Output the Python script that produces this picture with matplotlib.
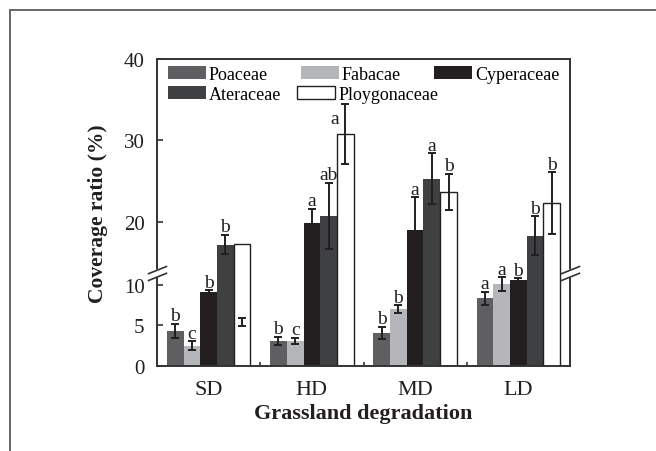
import matplotlib
matplotlib.use("Agg")
import matplotlib.pyplot as plt
from matplotlib.lines import Line2D
from matplotlib.path import Path
import numpy as np

plt.rcParams["font.family"] = ["Liberation Serif", "DejaVu Serif"]

groups = ["SD", "HD", "MD", "LD"]
families = ["Poaceae", "Fabacae", "Cyperaceae", "Ateraceae", "Ploygonaceae"]
colors = ["#5f5f61", "#b5b6b9", "#231f20", "#3f4042", "#ffffff"]

poaceae = [4.3, 3.1, 4.1, 8.3]
fabacae = [2.5, 3.1, 7.0, 10.1]
cyperaceae = [9.1, 19.9, 19.0, 10.6]
ateraceae = [17.2, 20.7, 25.3, 18.3]
ploygonaceae = [17.3, 30.8, 23.7, 22.3]

poaceae_err = [0.9, 0.5, 0.75, 0.85]
fabacae_err = [0.55, 0.4, 0.45, 0.85]
cyperaceae_err = [0.25, 1.7, 4.0, 0.2]
ateraceae_err = [1.2, 4.1, 3.1, 2.4]
ploygonaceae_err = [0.5, 3.7, 2.2, 3.8]
# the SD error bar of Ploygonaceae sits low in the original figure
ploygonaceae_err_mid = [5.4, 30.8, 23.7, 22.3]

poaceae_sig = ["b", "b", "b", "a"]
fabacae_sig = ["c", "c", "b", "a"]
cyperaceae_sig = ["b", "a", "a", "b"]
ateraceae_sig = ["b", "ab", "a", "b"]
ploygonaceae_sig = ["", "a", "b", "b"]

values = [poaceae, fabacae, cyperaceae, ateraceae, ploygonaceae]
errors = [poaceae_err, fabacae_err, cyperaceae_err, ateraceae_err, ploygonaceae_err]
err_mids = [poaceae, fabacae, cyperaceae, ateraceae, ploygonaceae_err_mid]
sigs = [poaceae_sig, fabacae_sig, cyperaceae_sig, ateraceae_sig, ploygonaceae_sig]

# letter that sits beside its error bar instead of above it (legend is in the way)
sig_offsets = {(4, 1): (-8, -17)}

# broken y axis: hide the band between brk_lo and brk_hi
brk_lo, brk_hi = 11.4, 13.7
gap = brk_hi - brk_lo


def fwd(v):
    v = np.asarray(v, dtype=float)
    return v - 0.99 * np.clip(v - brk_lo, 0, gap)


def inv(y):
    y = np.asarray(y, dtype=float)
    mid_top = brk_lo + 0.01 * gap
    return np.where(y <= brk_lo, y,
                    np.where(y < mid_top, brk_lo + (y - brk_lo) / 0.01, y + 0.99 * gap))


fig = plt.figure(figsize=(6.56, 4.52), dpi=100)
ax = fig.add_axes([157 / 656, 85 / 452, 413 / 656, 307 / 452])
ax.set_yscale("function", functions=(fwd, inv))

width = 0.162
x = np.arange(len(groups))
ink = "#231f20"
for j, fam in enumerate(families):
    xs = x + (j - 2) * width
    edge = ink if colors[j] == "#ffffff" else "none"
    ax.bar(xs, values[j], width, color=colors[j], edgecolor=edge,
           linewidth=1.0, label=fam, zorder=2)
    ax.errorbar(xs, err_mids[j], yerr=errors[j], fmt="none", ecolor=ink,
                elinewidth=1.4, capsize=3, capthick=1.4, zorder=3)
    for k in range(len(groups)):
        if sigs[j][k]:
            ax.annotate(sigs[j][k], (xs[k], err_mids[j][k] + errors[j][k]),
                        xytext=sig_offsets.get((j, k), (0, -0.5)),
                        textcoords="offset points",
                        ha="center", va="bottom", fontsize=14, color=ink)

ax.set_xlim(-0.5, 3.5)
ax.set_ylim(0, 40)
ax.set_yticks([0, 5, 10, 20, 30, 40])
ax.set_xticks(x)
ax.set_xticklabels(groups)
ax.set_xticks([0.5, 1.5, 2.5], minor=True)
ax.tick_params(axis="y", direction="in", length=4, width=1.2, labelsize=15,
               pad=9, colors="#333333", labelcolor=ink)
ax.tick_params(axis="x", which="major", length=0, labelsize=16, pad=10,
               labelcolor=ink)
ax.tick_params(axis="x", which="minor", direction="in", length=3, width=1.2,
               colors="#333333")
ax.yaxis.set_minor_locator(plt.NullLocator())
for s in ax.spines.values():
    s.set_linewidth(1.4)
    s.set_color("#333333")

ax.set_ylabel("Coverage ratio (%)", fontsize=15.5, fontweight="bold", labelpad=11,
              color=ink)
ax.set_xlabel("Grassland degradation", fontsize=16, fontweight="bold",
              labelpad=3, color=ink)

# break marks on both spines
brk_path = Path([(-1, -0.75), (1, 0.05), (-1, -0.05), (1, 0.75)],
                [Path.MOVETO, Path.LINETO, Path.MOVETO, Path.LINETO])
ax.plot([0, 1], [brk_lo, brk_lo], transform=ax.get_yaxis_transform(),
        linestyle="none", marker="s", markersize=6, markerfacecolor="white",
        markeredgecolor="none", clip_on=False, zorder=5)
ax.plot([0, 1], [brk_lo, brk_lo], transform=ax.get_yaxis_transform(),
        linestyle="none", marker=brk_path, markersize=14, markeredgewidth=1.2,
        color="#333333", clip_on=False, zorder=6)

handles, labels = ax.get_legend_handles_labels()
leg1 = ax.legend(handles[:3], labels[:3], ncol=3, loc="upper left",
                 bbox_to_anchor=(0.027, 0.977), frameon=False, fontsize=13,
                 handlelength=2.1, handleheight=0.7, handletextpad=0.15,
                 columnspacing=1.85, borderpad=0, borderaxespad=0)
ax.add_artist(leg1)
ax.legend(handles[3:], labels[3:], ncol=2, loc="upper left",
          bbox_to_anchor=(0.027, 0.912), frameon=False, fontsize=13,
          handlelength=2.1, handleheight=0.7, handletextpad=0.15,
          columnspacing=0.9, borderpad=0, borderaxespad=0)

# page frame
fig.add_artist(Line2D([10 / 656, 10 / 656], [0, 1 - 11 / 452],
                      transform=fig.transFigure, color="#666666", lw=1.4))
fig.add_artist(Line2D([10 / 656, 1], [1 - 11 / 452, 1 - 11 / 452],
                      transform=fig.transFigure, color="#666666", lw=1.4))

fig.savefig("out.png", dpi=100)
